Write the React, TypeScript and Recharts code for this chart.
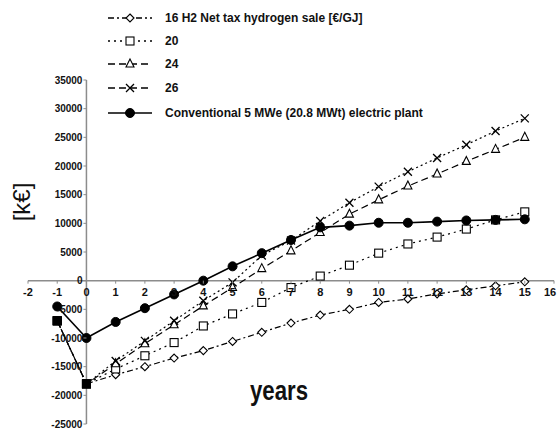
import { Line, LineChart, ReferenceLine, XAxis, YAxis } from 'recharts';

const years = [-1, 0, 1, 2, 3, 4, 5, 6, 7, 8, 9, 10, 11, 12, 13, 14, 15];
const h2Price16 = [-7000, -18000, -16400, -15000, -13500, -12200, -10600, -9000, -7400, -6000, -5000, -3800, -3200, -2300, -1600, -900, -200];
const h2Price20 = [-7000, -18000, -15400, -13100, -10800, -7900, -5800, -3800, -1200, 800, 2700, 4800, 6400, 7600, 9000, 10600, 12000];
const h2Price24 = [-7000, -18000, -14500, -11000, -7700, -4400, -1200, 2100, 5200, 8400, 11600, 14100, 16500, 18600, 20800, 22900, 25000];
const h2Price26 = [-7000, -18000, -14000, -10500, -7000, -3500, -300, 4400, 7000, 10400, 13600, 16400, 19000, 21400, 23700, 26100, 28300];
const conventional = [-4500, -10000, -7200, -4800, -2400, 0, 2500, 4800, 7100, 9300, 9600, 10100, 10100, 10300, 10500, 10600, 10700];

const xTicks = [-2, -1, 0, 1, 2, 3, 4, 5, 6, 7, 8, 9, 10, 11, 12, 13, 14, 15, 16];
const yTicks = [-25000, -20000, -15000, -10000, -5000, 0, 5000, 10000, 15000, 20000, 25000, 30000, 35000];

const legendLabels = [
  '16 H2 Net tax  hydrogen sale [€/GJ]',
  '20',
  '24',
  '26',
  'Conventional 5 MWe (20.8 MWt) electric plant',
];

const W = 558;
const H = 428;
const AXIS_SIZE = 1;
const MARGIN = { top: 80, right: 4, bottom: 4 - AXIS_SIZE, left: 28 - AXIS_SIZE };
const X_DOMAIN = [-2, 16];
const Y_DOMAIN = [-25000, 35000];
const PLOT_LEFT = 28;
const PLOT_W = W - PLOT_LEFT - MARGIN.right;
const PLOT_H = H - MARGIN.top - 4;
// pixel position of the crossing axes (x = 0, y = 0)
const X0 = PLOT_LEFT + (PLOT_W * (0 - X_DOMAIN[0])) / (X_DOMAIN[1] - X_DOMAIN[0]);
const Y0 = MARGIN.top + (PLOT_H * Y_DOMAIN[1]) / (Y_DOMAIN[1] - Y_DOMAIN[0]);

const FONT = "'Liberation Sans', Arial, sans-serif";
const AXIS_GREY = '#8c8c8c';

const data = years.map((year, i) => ({
  year,
  p16: h2Price16[i],
  p20: h2Price20[i],
  p24: h2Price24[i],
  p26: h2Price26[i],
  conv: conventional[i],
}));

type Shape = 'diamond' | 'square' | 'triangle' | 'cross' | 'circle';

function marker(shape: Shape, cx: number, cy: number, key?: string | number) {
  const s = 4;
  switch (shape) {
    case 'diamond':
      return <path key={key} d={`M${cx},${cy - s} L${cx + s},${cy} L${cx},${cy + s} L${cx - s},${cy} Z`} fill="#fff" stroke="#000" strokeWidth={1.1} />;
    case 'square':
      return <rect key={key} x={cx - s} y={cy - s} width={s * 2} height={s * 2} fill="#fff" stroke="#000" strokeWidth={1.1} />;
    case 'triangle':
      return <path key={key} d={`M${cx},${cy - s - 1} L${cx + s},${cy + s - 1} L${cx - s},${cy + s - 1} Z`} fill="#fff" stroke="#000" strokeWidth={1.1} />;
    case 'cross':
      return (
        <path key={key} d={`M${cx - s},${cy - s} L${cx + s},${cy + s} M${cx + s},${cy - s} L${cx - s},${cy + s}`} stroke="#000" strokeWidth={1.3} />
      );
    default:
      return <circle key={key} cx={cx} cy={cy} r={4.5} fill="#000" stroke="#000" />;
  }
}

const h2Dot = (shape: Shape) => (props: any) => {
  const { cx, cy, index } = props;
  if (cx == null || cy == null) return <g key={index} />;
  if (index <= 1) {
    return <rect key={index} x={cx - 4.5} y={cy - 4.5} width={9} height={9} fill="#000" />;
  }
  return marker(shape, cx, cy, index);
};

const convDot = (props: any) => {
  const { cx, cy, index } = props;
  if (cx == null || cy == null) return <g key={index} />;
  return marker('circle', cx, cy, index);
};

const renderXTick = (props: any) => {
  const { x, payload } = props;
  // keep the last label inside the page
  const tx = Math.min(x, W - 8);
  return (
    <g key={payload.value}>
      <line x1={x} x2={x} y1={Y0} y2={Y0 + 3} stroke={AXIS_GREY} />
      <text x={tx} y={Y0 + 15} textAnchor="middle" fontFamily={FONT} fontWeight="bold" fontSize={11} fill="#111">
        {payload.value}
      </text>
    </g>
  );
};

const renderYTick = (props: any) => {
  const { y, payload } = props;
  return (
    <g key={payload.value}>
      <line x1={X0 - 3} x2={X0} y1={y} y2={y} stroke={AXIS_GREY} />
      <text x={X0 - 4} y={y + 3.5} textAnchor="end" fontFamily={FONT} fontWeight="bold" fontSize={10} fill="#111">
        {payload.value}
      </text>
    </g>
  );
};

const series = [
  { key: 'p16', shape: 'diamond' as Shape, dash: '6 3 2 3' },
  { key: 'p20', shape: 'square' as Shape, dash: '2 4' },
  { key: 'p24', shape: 'triangle' as Shape, dash: '7 4' },
  { key: 'p26', shape: 'cross' as Shape, dash: '2 3' },
];

const legendRows = [
  { shape: 'diamond' as Shape, dash: '6 3 2 3', y: 18 },
  { shape: 'square' as Shape, dash: '2 4', y: 41 },
  { shape: 'triangle' as Shape, dash: '7 4', y: 64 },
  { shape: 'cross' as Shape, dash: '7 4', y: 88 },
  { shape: 'circle' as Shape, dash: undefined, y: 113 },
];

export default function App() {
  return (
    <div style={{ position: 'absolute', left: 0, top: 0, width: W, height: H, background: '#fff' }}>
      <LineChart width={W} height={H} data={data} margin={MARGIN}>
        <XAxis
          dataKey="year"
          type="number"
          domain={X_DOMAIN}
          ticks={xTicks}
          interval={0}
          height={AXIS_SIZE}
          axisLine={false}
          tickLine={false}
          tick={renderXTick}
          allowDataOverflow
        />
        <YAxis
          type="number"
          domain={Y_DOMAIN}
          ticks={yTicks}
          interval={0}
          width={AXIS_SIZE}
          axisLine={false}
          tickLine={false}
          tick={renderYTick}
          allowDataOverflow
        />
        <ReferenceLine y={0} stroke={AXIS_GREY} strokeWidth={1.5} />
        <ReferenceLine x={0} stroke={AXIS_GREY} strokeWidth={1.5} />
        {series.map((s) => (
          <Line
            key={s.key}
            dataKey={s.key}
            stroke="#000"
            strokeWidth={1.2}
            strokeDasharray={s.dash}
            dot={h2Dot(s.shape)}
            activeDot={false}
            isAnimationActive={false}
          />
        ))}
        <Line dataKey="conv" stroke="#000" strokeWidth={1.6} dot={convDot} activeDot={false} isAnimationActive={false} />
      </LineChart>
      <svg width={W} height={H} style={{ position: 'absolute', left: 0, top: 0, pointerEvents: 'none' }}>
        {legendRows.map((row, i) => (
          <g key={i}>
            <line x1={108} x2={152} y1={row.y} y2={row.y} stroke="#000" strokeWidth={1.4} strokeDasharray={row.dash} />
            {marker(row.shape, 130, row.y)}
            <text x={165} y={row.y + 4} fontFamily={FONT} fontWeight="bold" fontSize={12} fill="#111">
              {legendLabels[i]}
            </text>
          </g>
        ))}
        <text
          x={30}
          y={202}
          transform="rotate(-90 30 202)"
          textAnchor="middle"
          fontFamily={FONT}
          fontSize={24}
          fill="#111"
        >
          [k€]
        </text>
        <text
          x={279}
          y={400}
          textAnchor="middle"
          fontFamily={FONT}
          fontWeight="bold"
          fontSize={27}
          textLength={58}
          lengthAdjust="spacingAndGlyphs"
          fill="#111"
        >
          years
        </text>
      </svg>
    </div>
  );
}
